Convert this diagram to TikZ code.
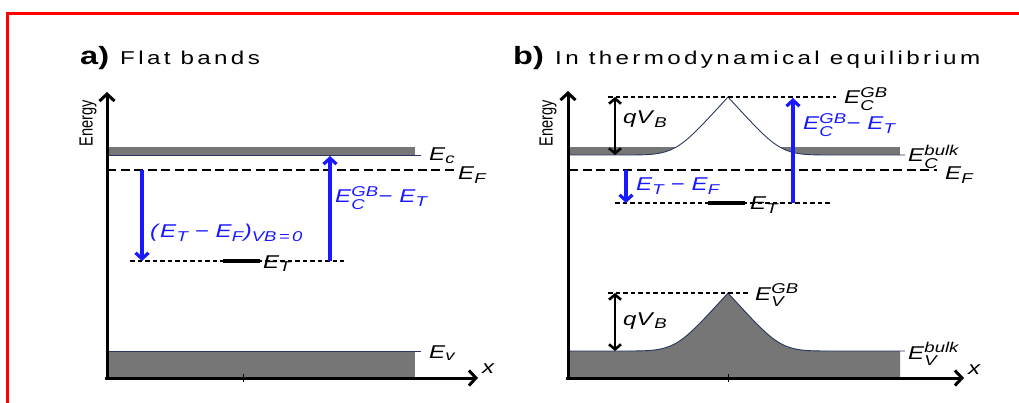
\documentclass[tikz,border=0pt]{standalone}
\usepackage{amsmath}
\usepackage{fontspec}
\setmainfont{Liberation Sans}[FakeStretch=1.3]
\newfontfamily\spacedfont{Liberation Sans}[FakeStretch=1.3,LetterSpace=18]
\newfontfamily\plainfont{Liberation Sans}
\renewcommand{\defaultscriptratio}{.77}
\usetikzlibrary{arrows.meta}
\definecolor{bandgray}{RGB}{118,118,118}
\definecolor{arrowblue}{RGB}{25,25,255}
\definecolor{edgeline}{RGB}{40,55,95}
\newcommand{\Esub}[1]{\textit{E}$_{\text{\itshape #1}}$}
\newcommand{\Esubsup}[2]{\textit{E}$^{\text{\itshape #2}}_{\text{\itshape #1}}$}
\begin{document}
\begin{tikzpicture}[x=1pt,y=-1pt,
  axis/.style={line width=3pt,-{Straight Barb[length=7pt,width=15pt]}},
  barrow/.style={draw=arrowblue,line width=3.2pt,-{Straight Barb[length=6pt,width=13pt]}},
  dbl/.style={line width=2.6pt,{Straight Barb[length=5pt,width=12pt]}-{Straight Barb[length=5pt,width=12pt]}},
  fermi/.style={dash pattern=on 9pt off 4.5pt,line width=1.6pt},
  trap/.style={dash pattern=on 4.5pt off 3pt,line width=1.3pt},
  trapbar/.style={line width=3.2pt},
  lbl/.style={anchor=base west,inner sep=0pt,font=\fontsize{18.5}{22}\selectfont},
  blbl/.style={anchor=base west,inner sep=0pt,text=arrowblue,font=\fontsize{18.5}{20}\selectfont},
  titlenum/.style={anchor=base west,inner sep=0pt,font=\fontsize{25}{28}\selectfont\bfseries},
  title/.style={anchor=base west,inner sep=0pt,font=\fontsize{18.6}{20}\selectfont\spacedfont},
  energy/.style={rotate=90,inner sep=0pt,font=\fontsize{19}{20}\selectfont\plainfont},
  edge/.style={draw=edgeline,line width=0.9pt},
]
\useasboundingbox (0,0) rectangle (1019,403);
% red frame
\draw[red,line width=3pt] (7,403) -- (7,14) -- (1019,14);

% ---------- titles ----------
\node[titlenum] (tan) at (80,65) {a)};
\node[title] (ta) at (120,65) {Flat bands};
\node[titlenum] (tbn) at (513,65) {b)};
\node[title] (tb) at (555,65) {In thermodynamical equilibrium};

% ---------- panel a ----------
\fill[bandgray] (107,147) rectangle (415,155);
\draw[edge] (107,155) -- (421,155);
\fill[bandgray] (107,351) rectangle (415,378);
\draw[edge] (107,351) -- (421,351);

\coordinate (aF0) at (107,170);
\coordinate (aF1) at (457,170);
\draw[fermi] (aF0) -- (aF1);
\coordinate (aT0) at (130,261);
\coordinate (aT1) at (344,261);
\draw[trap] (aT0) -- (aT1);
\coordinate (aB0) at (223,261);
\coordinate (aB1) at (260,261);
\draw[trapbar] (aB0) -- (aB1);

\coordinate (aD0) at (142,170);
\coordinate (aD1) at (142,261);
\draw[barrow] (aD0) -- (aD1);
\coordinate (aU0) at (330,261);
\coordinate (aU1) at (330,156);
\draw[barrow] (aU0) -- (aU1);

\node[lbl] (aEc) at (429,161) {\Esub{c}};
\node[lbl] (aEF) at (458,180) {\Esub{F}};
\node[lbl] (aEv) at (429,358) {\Esub{v}};
\node[lbl] (aET) at (263,268) {\Esub{T}};
\node[lbl] (ax) at (482,373) {\textit{x}};
\node[blbl] (aL1) at (150,238) {\textit{(}\Esub{T} − \Esub{F}\textit{)}$_{\text{\itshape VB\,=\,0}}$};
\node[blbl] (aL2) at (335,203) {\Esubsup{C}{GB}− \Esub{T}};

\coordinate (ay0) at (107,380);
\coordinate (ay1) at (107,92);
\draw[axis] (ay0) -- (ay1);
\coordinate (ax0) at (105,378);
\coordinate (ax1) at (478,378);
\draw[axis] (ax0) -- (ax1);
\coordinate (at0) at (243,374);
\coordinate (at1) at (243,382);
\draw[line width=0.8pt] (at0) -- (at1);
\node[energy] (aen) at (88,123) {\scalebox{0.77}[1]{Energy}};

% ---------- panel b ----------
\begin{scope}
\clip (560,0) -- (560,155) -- (622,155) .. controls (675,155) .. (728,97)
      .. controls (781,155) .. (834,155) -- (910,155) -- (910,0) -- cycle;
\fill[bandgray] (569,147) rectangle (900,155);
\end{scope}
\draw[edge] (569,155) -- (622,155) .. controls (675,155) .. (728,97)
      .. controls (781,155) .. (834,155) -- (905,155);

\fill[bandgray] (569,378) -- (569,351) -- (622,351) .. controls (675,351) .. (728,293)
      .. controls (781,351) .. (834,351) -- (900,351) -- (900,378) -- cycle;
\draw[edge] (569,351) -- (622,351) .. controls (675,351) .. (728,293)
      .. controls (781,351) .. (834,351) -- (905,351);

\coordinate (bG0) at (608,97);
\coordinate (bG1) at (836,97);
\draw[trap] (bG0) -- (bG1);
\coordinate (bV0) at (608,293);
\coordinate (bV1) at (750,293);
\draw[trap] (bV0) -- (bV1);
\coordinate (bF0) at (569,170);
\coordinate (bF1) at (937,170);
\draw[fermi] (bF0) -- (bF1);
\coordinate (bT0) at (615,203);
\coordinate (bT1) at (830,203);
\draw[trap] (bT0) -- (bT1);
\coordinate (bB0) at (708,203);
\coordinate (bB1) at (745,203);
\draw[trapbar] (bB0) -- (bB1);

\coordinate (bq0) at (615,97);
\coordinate (bq1) at (615,155);
\draw[dbl] (bq0) -- (bq1);
\coordinate (bq2) at (615,293);
\coordinate (bq3) at (615,351);
\draw[dbl] (bq2) -- (bq3);

\coordinate (bD0) at (626,170);
\coordinate (bD1) at (626,203);
\draw[barrow] (bD0) -- (bD1);
\coordinate (bU0) at (793,203);
\coordinate (bU1) at (793,98);
\draw[barrow] (bU0) -- (bU1);

\node[lbl] (bECGB) at (844,104) {\Esubsup{C}{GB}};
\node[lbl] (bqa) at (623,124) {\textit{qV}$_{\text{\itshape B}}$};
\node[lbl] (bqb) at (623,325) {\textit{qV}$_{\text{\itshape B}}$};
\node[blbl] (bL2) at (803,130) {\Esubsup{C}{GB}− \Esub{T}};
\node[blbl] (bL1) at (636,191) {\Esub{T} − \Esub{F}};
\node[lbl] (bECb) at (908,162) {\Esubsup{C}{bulk}};
\node[lbl] (bEF) at (945,180) {\Esub{F}};
\node[lbl] (bET) at (750,210) {\Esub{T}};
\node[lbl] (bEVGB) at (755,300) {\Esubsup{V}{GB}};
\node[lbl] (bEVb) at (908,359) {\Esubsup{V}{bulk}};
\node[lbl] (bx) at (968,374) {\textit{x}};

\coordinate (by0) at (568,380);
\coordinate (by1) at (568,91);
\draw[axis] (by0) -- (by1);
\coordinate (bx0) at (566,378);
\coordinate (bx1) at (964,378);
\draw[axis] (bx0) -- (bx1);
\coordinate (bt0) at (728,374);
\coordinate (bt1) at (728,382);
\draw[line width=0.8pt] (bt0) -- (bt1);
\node[energy] (ben) at (548,123) {\scalebox{0.77}[1]{Energy}};
\end{tikzpicture}
\end{document}
